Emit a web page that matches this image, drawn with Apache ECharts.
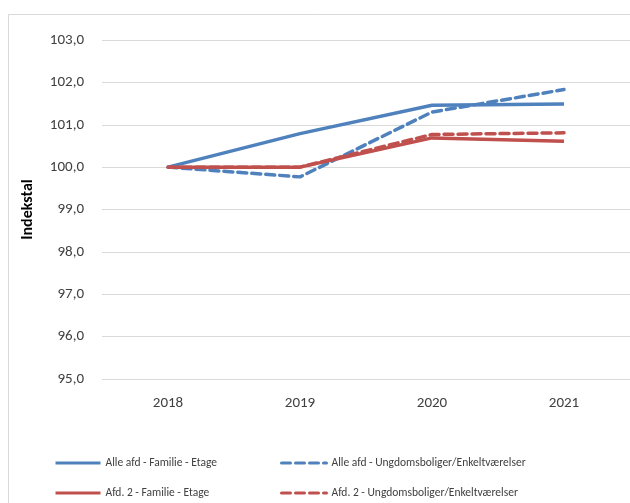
<!DOCTYPE html>
<html>
	<head>
		<meta charset="utf-8" />
		<title>Indekstal</title>
		<style type="text/css">
			body,
			html,
			#main {
				width: 100%;
				height: 100%;
				overflow: hidden;
				margin: 0;
				background: #fff;
			}
		</style>
	</head>
	<body>
		<div id="main"></div>
		<script src="https://cdn.jsdelivr.net/npm/echarts@6/dist/echarts.min.js"></script>
		<script>
			// data
			var years = ['2018', '2019', '2020', '2021'];
			var alleFamilie = [100.0, 100.79, 101.46, 101.49];
			var alleUngdom = [100.0, 99.77, 101.3, 101.83];
			var afd2Familie = [100.0, 100.0, 100.69, 100.61];
			var afd2Ungdom = [100.0, 100.0, 100.77, 100.81];
			var names = [
				'Alle afd - Familie - Etage',
				'Alle afd - Ungdomsboliger/Enkeltværelser',
				'Afd. 2 - Familie - Etage',
				'Afd. 2 - Ungdomsboliger/Enkeltværelser'
			];

			var blue = '#4f81bd';
			var red = '#c0504d';
			var font = 'Calibri, Carlito, "Open Sans", "Noto Sans", sans-serif';

			var myChart = echarts.init(document.getElementById('main'));

			function mkSeries(name, data, color, dashed) {
				return {
					name: name,
					type: 'line',
					data: data,
					symbol: 'none',
					animation: false,
					lineStyle: {
						color: color,
						width: 3.5,
						type: dashed ? [9, 5] : 'solid',
						cap: dashed ? 'round' : 'butt'
					},
					itemStyle: { color: color }
				};
			}

			function mkLegend(data, left) {
				return {
					data: data,
					orient: 'vertical',
					left: left,
					top: 457,
					padding: 0,
					itemWidth: 45,
					itemHeight: 14,
					itemGap: 18,
					itemStyle: { opacity: 0 },
					lineStyle: { width: 3 },
					textStyle: { color: '#404040', fontSize: 11.5, fontFamily: font }
				};
			}

			var option = {
				backgroundColor: '#fff',
				graphic: [
					{
						type: 'rect',
						shape: { x: 8.5, y: 14.5, width: 640, height: 520 },
						style: { fill: 'none', stroke: '#d9d9d9', lineWidth: 1 },
						silent: true
					}
				],
				grid: { left: 102, top: 40, width: 529, height: 339 },
				legend: [mkLegend([names[0], names[2]], 54), mkLegend([names[1], names[3]], 280)],
				xAxis: {
					type: 'category',
					data: years,
					boundaryGap: true,
					axisLine: { show: false },
					axisTick: { show: false },
					axisLabel: { color: '#404040', fontSize: 15, fontFamily: font, margin: 17 }
				},
				yAxis: {
					type: 'value',
					min: 95,
					max: 103,
					interval: 1,
					name: 'Indekstal',
					nameLocation: 'middle',
					nameGap: 66,
					nameTextStyle: { color: '#000', fontSize: 16, fontWeight: 'bold', fontFamily: font },
					axisLine: { show: false },
					axisTick: { show: false },
					axisLabel: {
						color: '#404040',
						fontSize: 15,
						fontFamily: font,
						margin: 18,
						formatter: function (v) {
							return v.toFixed(1).replace('.', ',');
						}
					},
					splitLine: { lineStyle: { color: '#d9d9d9', width: 1 } }
				},
				series: [
					mkSeries(names[0], alleFamilie, blue, false),
					mkSeries(names[1], alleUngdom, blue, true),
					mkSeries(names[2], afd2Familie, red, false),
					mkSeries(names[3], afd2Ungdom, red, true)
				]
			};
			myChart.setOption(option);
		</script>
	</body>
</html>
